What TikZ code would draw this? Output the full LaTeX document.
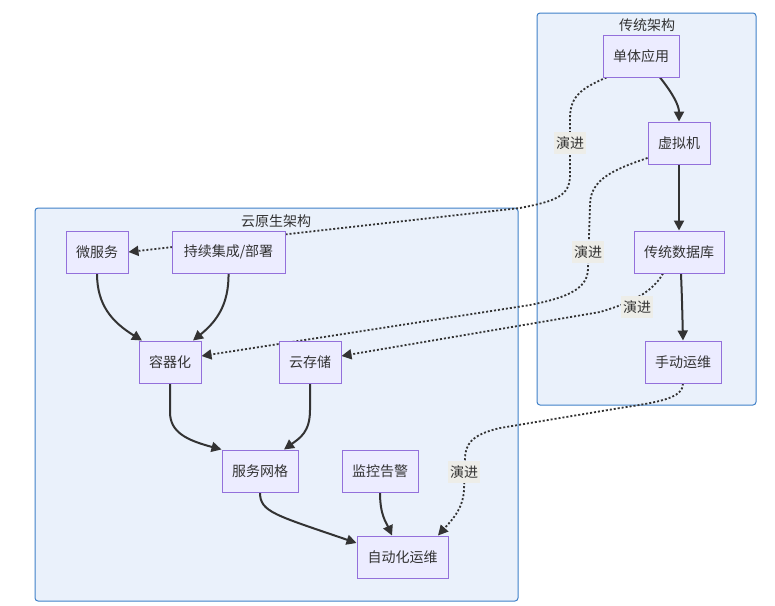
\documentclass[tikz,border=0pt]{standalone}
\usepackage{fontspec}
\setmainfont{Noto Sans CJK SC}
\usetikzlibrary{arrows.meta}
\definecolor{nodefill}{HTML}{ECECFF}
\definecolor{nodestroke}{HTML}{9370DB}
\definecolor{clfill}{HTML}{EAF1FB}
\definecolor{clstroke}{HTML}{3F80C8}
\definecolor{edgecol}{HTML}{333333}
\definecolor{lblfill}{HTML}{EDEDE8}
\pgfdeclarelayer{bg}
\pgfdeclarelayer{edges}
\pgfsetlayers{bg,edges,main}
\tikzset{
  nd/.style={draw=nodestroke, fill=nodefill, line width=1pt, minimum height=42pt, inner sep=0pt, font=\fontsize{14pt}{16pt}\selectfont, text=edgecol},
  cluster/.style={draw=clstroke, fill=clfill, line width=1pt, rounded corners=3pt},
  ctitle/.style={font=\fontsize{14pt}{16pt}\selectfont, text=edgecol, inner sep=0pt},
  solidedge/.style={draw=edgecol, line width=2pt, -{Triangle[length=10pt,width=10pt]}},
  dotedge/.style={draw=edgecol, line width=1.8pt, dash pattern=on 2pt off 2pt, -{Triangle[length=10pt,width=10pt]}},
  evlabel/.style={fill=lblfill, font=\fontsize{14pt}{16pt}\selectfont, text=edgecol, inner sep=2pt, minimum height=22pt}
}
\begin{document}
\begin{tikzpicture}[x=1pt,y=-1pt]
\useasboundingbox (0,0) rectangle (775,605);
% clusters
\begin{pgfonlayer}{bg}
\draw[cluster] (537,13) rectangle (756,405);
\draw[cluster] (35,208) rectangle (518,601);
\end{pgfonlayer}
\node[ctitle] (t1) at (647,25) {传统架构};
\node[ctitle] (t2) at (276,221) {云原生架构};
% traditional nodes
\node[nd, minimum width=76pt] (mono) at (641,56) {单体应用};
\node[nd, minimum width=62pt] (vm) at (679,143) {虚拟机};
\node[nd, minimum width=90pt] (db) at (679,252) {传统数据库};
\node[nd, minimum width=76pt] (ops) at (683,362) {手动运维};
% cloud nodes
\node[nd, minimum width=62pt] (ms) at (97,252) {微服务};
\node[nd, minimum width=113pt] (ci) at (228.5,252) {持续集成/部署};
\node[nd, minimum width=62pt] (ct) at (170,362) {容器化};
\node[nd, minimum width=62pt] (cs) at (310,362) {云存储};
\node[nd, minimum width=76pt] (mesh) at (260,471) {服务网格};
\node[nd, minimum width=76pt] (mon) at (380,471) {监控告警};
\node[nd, minimum width=91pt] (auto) at (402.5,557) {自动化运维};
% edge labels
\node[evlabel] (l1) at (570,143) {演进};
\node[evlabel] (l2) at (588,252) {演进};
\node[evlabel] (l3) at (637,307) {演进};
\node[evlabel] (l4) at (464,472) {演进};
\begin{pgfonlayer}{edges}
% solid edges
\draw[solidedge] (mono.south) ++(19,0) .. controls +(12,15) and (679,105) .. (vm.north);
\draw[solidedge] (vm.south) -- (db.north);
\draw[solidedge] (db.south) ++(2,0) .. controls (682,300) .. (ops.north);
\draw[solidedge] (ms.south) .. controls (97,305) and (112,322) .. ([xshift=-28pt]ct.north);
\draw[solidedge] (ci.south) .. controls (229,305) and (216,322) .. ([xshift=23pt]ct.north);
\draw[solidedge] (ct.south) -- (170,412) .. controls (170,432) and (186,440) .. (mesh.north west);
\draw[solidedge] (cs.south) -- (310,410) .. controls (310,432) and (300,438) .. ([xshift=24pt]mesh.north);
\draw[solidedge] (mesh.south) .. controls (260,512) and (275,515) .. ([yshift=14pt]auto.west);
\draw[solidedge] (mon.south) .. controls (380,515) and (386,522) .. ([xshift=-10.5pt]auto.north);
% dotted evolution edges
\draw[dotedge] ([xshift=4pt]mono.south west) .. controls (582,88) and (570,96) .. (570,118) -- (570,175) .. controls (570,196) and (556,201) .. (520,208) -- (ms.east);
\draw[dotedge] ([yshift=-15pt]vm.west) .. controls (612,170) and (590,180) .. (590,205) -- (588,268) .. controls (588,288) and (570,297) .. (530,305) -- ([yshift=6pt]ct.east);
\draw[dotedge] ([xshift=-16pt]db.south) .. controls (652,293) and (630,303) .. (600,312) -- ([yshift=6pt]cs.east);
\draw[dotedge] (ops.south) .. controls (683,398) and (660,402) .. (620,408) -- (500,428) .. controls (470,435) and (465,445) .. (465,460) -- (464,490) .. controls (463,510) and (450,522) .. ([xshift=35.5pt]auto.north);
\end{pgfonlayer}
\end{tikzpicture}
\end{document}
